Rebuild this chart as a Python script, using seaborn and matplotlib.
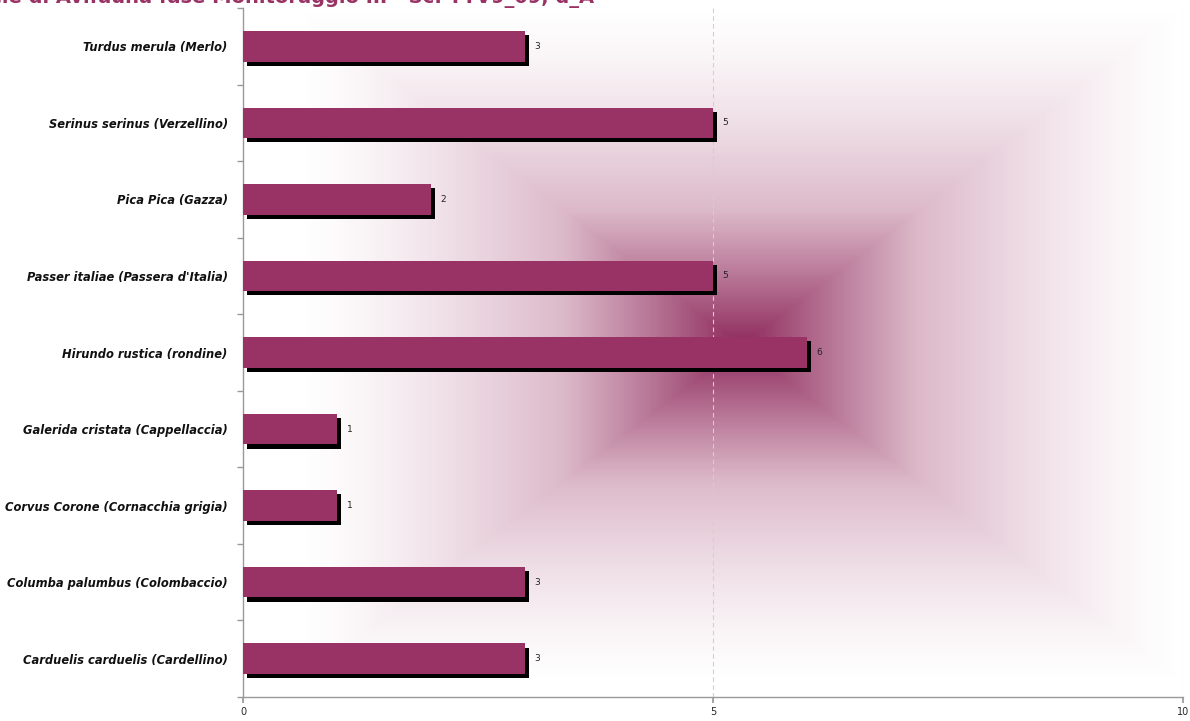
import numpy as np
import pandas as pd
import matplotlib
matplotlib.use("Agg")
import matplotlib.pyplot as plt
import matplotlib.patheffects as pe
from matplotlib.colors import LinearSegmentedColormap
from matplotlib.ticker import FixedLocator
import seaborn as sns

species = [
    "Turdus merula (Merlo)",
    "Serinus serinus (Verzellino)",
    "Pica Pica (Gazza)",
    "Passer italiae (Passera d'Italia)",
    "Hirundo rustica (rondine)",
    "Galerida cristata (Cappellaccia)",
    "Corvus Corone (Cornacchia grigia)",
    "Columba palumbus (Colombaccio)",
    "Carduelis carduelis (Cardellino)",
]
counts = [3, 5, 2, 5, 6, 1, 1, 3, 3]
x_ticks = [0, 5, 10]
title = "Specie di Avifauna fase Monitoraggio III - Sc: TTV9_09, d_A"

df = pd.DataFrame({"specie": species, "n": counts})

sns.set_theme(style="white")
plt.rcParams["font.family"] = ["DejaVu Sans"]

fig = plt.figure(figsize=(11.9, 7.21), dpi=100)
ax = fig.add_axes([243 / 1190, 24 / 721, 940 / 1190, 689 / 721])

bar_color = "#993366"
sns.barplot(data=df, y="specie", x="n", orient="h", color=bar_color,
            width=0.4, saturation=1, ax=ax, zorder=3)
for p in ax.patches:
    p.set_edgecolor("none")
    p.set_path_effects([pe.SimplePatchShadow(offset=(3, -3), shadow_rgbFace="black", alpha=1.0),
                        pe.Normal()])

ax.set_xlim(0, 10)
ax.set_ylim(len(species) - 0.5, -0.5)

# background rectangular gradient
nx, ny = 600, 480
gx = np.linspace(0, 1, nx)
gy = np.linspace(0, 1, ny)
GX, GY = np.meshgrid(gx, gy)
cx, cy = 0.53, 0.49
dx = np.abs(GX - cx) / 0.47
dy = np.abs(GY - cy) / 0.49
r = np.clip(np.maximum(dx, dy), 0, 1)
t = (1 - r) ** 1.35
cmap = LinearSegmentedColormap.from_list("bg", ["#ffffff", "#dcb9c9", "#8e2a5c"], N=256)
ax.imshow(t, cmap=cmap, vmin=0, vmax=1, extent=[0, 10, len(species) - 0.5, -0.5],
          aspect="auto", zorder=0, interpolation="bilinear")

# grid
for v in [5, 10]:
    ax.axvline(v, color="#d0d0d0", lw=0.8, ls=(0, (4, 3)), zorder=1)

# value labels
for i, v in enumerate(counts):
    ax.annotate(str(v), xy=(v, i), xytext=(7, 0), textcoords="offset points",
                ha="left", va="center", fontsize=6.5, color="#222222", zorder=4)

ax.set_xlabel("")
ax.set_ylabel("")
ax.set_xticks(x_ticks)
ax.set_xticklabels([str(v) for v in x_ticks], fontsize=7)
ax.set_yticks(range(len(species)))
ax.set_yticklabels(species, fontsize=8.3, fontweight="bold", fontstyle="italic", color="#111111")
ax.tick_params(axis="y", which="major", length=0, pad=11)
ax.yaxis.set_minor_locator(FixedLocator(np.arange(-0.5, len(species), 1.0)))
ax.tick_params(axis="y", which="minor", length=4, color="#999999", direction="out", left=True)
ax.tick_params(axis="x", which="major", length=4, color="#999999", direction="out", bottom=True, pad=3)

for s in ["top", "right"]:
    ax.spines[s].set_visible(False)
for s in ["left", "bottom"]:
    ax.spines[s].set_color("#999999")
    ax.spines[s].set_linewidth(1.0)

fig.text(-0.043, 1.003, title, fontsize=14, fontweight="bold", color="#993366",
         ha="left", va="center")

fig.savefig("out.png", dpi=100)
